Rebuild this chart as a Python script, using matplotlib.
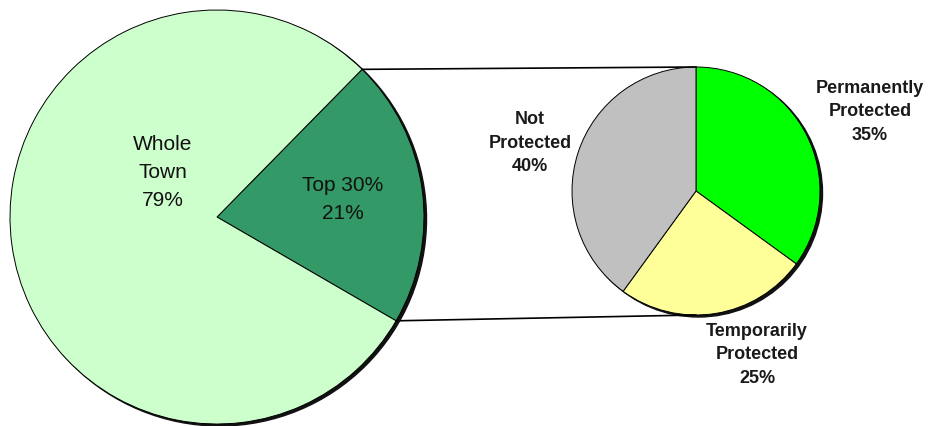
import numpy as np
import matplotlib
matplotlib.use("Agg")
import matplotlib.pyplot as plt
from matplotlib.patches import Circle

# big pie: share of town land
big_labels = ["Top 30%\n21%", "Whole\nTown\n79%"]
big_values = [21, 79]
big_colors = ["#339966", "#ccffcc"]

# small pie: breakdown of the top 30%
small_labels = ["Permanently\nProtected\n35%", "Temporarily\nProtected\n25%", "Not\nProtected\n40%"]
small_values = [35, 25, 40]
small_colors = ["#00ff00", "#ffff99", "#c0c0c0"]

plt.rcParams['font.family'] = ['Liberation Sans', 'DejaVu Sans']

fig = plt.figure(figsize=(9.31, 4.27), dpi=100)
ax = fig.add_axes([0, 0, 1, 1])

big_c, big_r = (217, 209), 207
small_c, small_r = (696, 235), 124

# drop shadows
ax.add_patch(Circle((big_c[0] + 2.5, big_c[1] - 2), big_r, color="#111111", zorder=0))
ax.add_patch(Circle((small_c[0] + 2.5, small_c[1] - 2), small_r, color="#111111", zorder=0))

wedges_big, _ = ax.pie(big_values, colors=big_colors, startangle=-30.1, counterclock=True,
                       center=big_c, radius=big_r,
                       wedgeprops=dict(edgecolor="black", linewidth=0.7))
wedges_small, _ = ax.pie(small_values, colors=small_colors, startangle=90, counterclock=False,
                         center=small_c, radius=small_r,
                         wedgeprops=dict(edgecolor="black", linewidth=0.7))

# connector lines from the Top 30% slice to the small pie
w = wedges_big[0]
for th, yy in [(w.theta2, small_c[1] + small_r), (w.theta1, small_c[1] - small_r)]:
    x0 = big_c[0] + big_r * np.cos(np.radians(th))
    y0 = big_c[1] + big_r * np.sin(np.radians(th))
    ax.plot([x0, small_c[0]], [y0, yy], color="black", lw=1.2, zorder=3)

# labels
big_kw = dict(ha="center", va="center", fontsize=15, linespacing=1.6, color="#111111")
small_kw = dict(ha="center", va="center", fontsize=13, fontweight="bold", linespacing=1.5, color="#1a1a1a")
ax.text(163, 254, big_labels[1], **big_kw)
ax.text(343, 227, big_labels[0], **big_kw)
ax.text(870, 315, small_labels[0], **small_kw)
ax.text(757, 72, small_labels[1], **small_kw)
ax.text(530, 284, small_labels[2], **small_kw)

ax.set_xlim(0, 931)
ax.set_ylim(0, 427)
ax.set_aspect("equal")
ax.axis("off")

fig.savefig("out.png", dpi=100, facecolor="white")
